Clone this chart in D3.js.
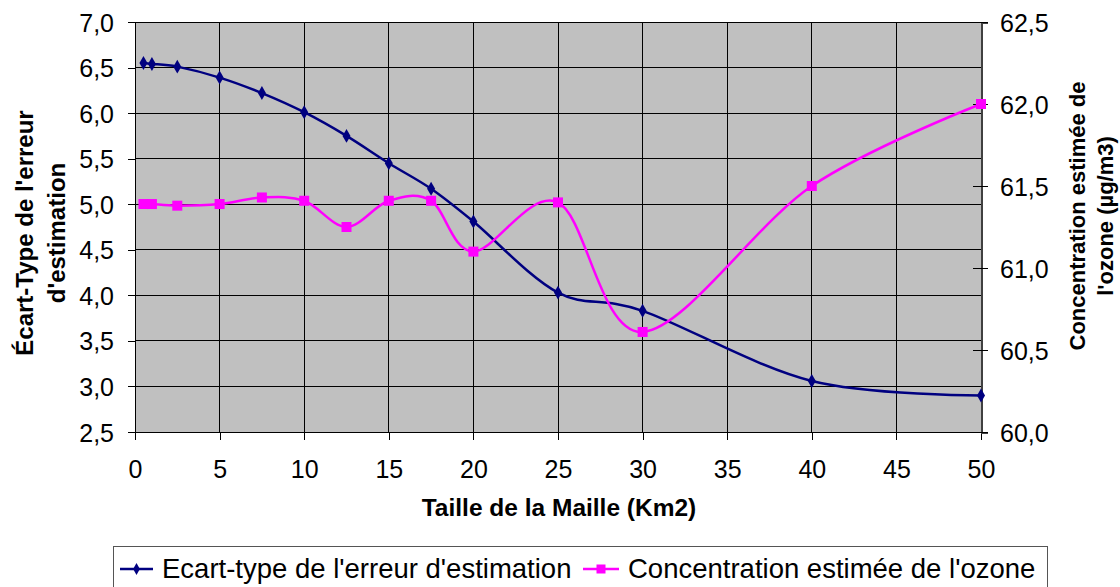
<!DOCTYPE html>
<html>
<head>
<meta charset="utf-8">
<script src="https://cdn.jsdelivr.net/npm/d3@7"></script>
<style>
  html, body { margin: 0; padding: 0; background: #fff; }
  svg { display: block; font-family: "Liberation Sans", Arial, sans-serif; }
</style>
</head>
<body>
<svg id="chart" width="1120" height="587"></svg>
<script>
// Mesh size (km²)
const maille = [0.5, 1, 2.5, 5, 7.5, 10, 12.5, 15, 17.5, 20, 25, 30, 40, 50];
// Standard deviation of the estimation error (left axis)
const ecartType = [6.55, 6.54, 6.51, 6.39, 6.22, 6.01, 5.75, 5.45, 5.17, 4.81, 4.03, 3.83, 3.06, 2.90];
// Estimated ozone concentration, µg/m3 (right axis)
const concentration = [61.39, 61.39, 61.38, 61.39, 61.43, 61.41, 61.25, 61.41, 61.41, 61.10, 61.40, 60.61, 61.50, 62.00];

const xTicks = [0, 5, 10, 15, 20, 25, 30, 35, 40, 45, 50];
const leftTicks = [2.5, 3.0, 3.5, 4.0, 4.5, 5.0, 5.5, 6.0, 6.5, 7.0];
const rightTicks = [60.0, 60.5, 61.0, 61.5, 62.0, 62.5];

const seriesNames = ["Ecart-type de l'erreur d'estimation", "Concentration estimée de l'ozone"];
const xTitle = "Taille de la Maille (Km2)";
const leftTitle = ["Écart-Type de l'erreur", "d'estimation"];
const rightTitle = ["Concentration estimée de", "l'ozone (µg/m3)"];

const svg = d3.select("#chart");
const plot = { left: 135, right: 981, top: 22, bottom: 432 };

const fr = d3.formatLocale({ decimal: ",", thousands: " ", grouping: [3], currency: ["", "€"] });
const f1 = fr.format(".1f");

const x = d3.scaleLinear().domain([0, 50]).range([plot.left, plot.right]);
const yL = d3.scaleLinear().domain([2.5, 7]).range([plot.bottom, plot.top]);
const yR = d3.scaleLinear().domain([60, 62.5]).range([plot.bottom, plot.top]);

// plot background
svg.append("rect")
  .attr("x", plot.left).attr("y", plot.top)
  .attr("width", plot.right - plot.left).attr("height", plot.bottom - plot.top)
  .attr("fill", "#c0c0c0");

// gridlines
const grid = svg.append("g").attr("stroke", "#000").attr("stroke-width", 1).attr("shape-rendering", "crispEdges");
grid.selectAll("line.h").data(leftTicks).join("line").attr("class", "h")
  .attr("x1", plot.left).attr("x2", plot.right)
  .attr("y1", d => yL(d)).attr("y2", d => yL(d));
grid.selectAll("line.v").data(xTicks).join("line").attr("class", "v")
  .attr("y1", plot.top).attr("y2", plot.bottom)
  .attr("x1", d => x(d)).attr("x2", d => x(d));

// axes
const tickFont = 25;
const gx = svg.append("g").attr("transform", `translate(0,${plot.bottom})`)
  .call(d3.axisBottom(x).tickValues(xTicks).tickSize(8).tickPadding(20).tickFormat(d3.format("d")));
const gl = svg.append("g").attr("transform", `translate(${plot.left},0)`)
  .call(d3.axisLeft(yL).tickValues(leftTicks).tickSize(7).tickPadding(14).tickFormat(f1));
const gr = svg.append("g").attr("transform", `translate(${plot.right},0)`)
  .call(d3.axisRight(yR).tickValues(rightTicks).tickSize(7).tickPadding(12).tickFormat(f1));
// right ticks cross the axis line
gr.selectAll(".tick line").attr("x1", -8);

[gx, gl, gr].forEach(g => {
  g.selectAll("text").attr("font-size", tickFont).attr("fill", "#000")
    .attr("font-family", "'Liberation Sans', Arial, sans-serif");
  g.selectAll("line").attr("stroke", "#000").attr("shape-rendering", "crispEdges");
  g.select(".domain").attr("stroke", "#000").attr("shape-rendering", "crispEdges");
});
gx.selectAll(".tick text").attr("dy", "0.71em");
gl.selectAll(".tick text").attr("dy", "0.36em");
gr.selectAll(".tick text").attr("dy", "0.36em");
gr.select(".domain").attr("stroke", "#404040").attr("stroke-width", 2);

// axis titles
svg.append("text")
  .attr("x", (plot.left + plot.right) / 2 + 1).attr("y", 516)
  .attr("text-anchor", "middle").attr("font-weight", "bold").attr("font-size", 24.5)
  .text(xTitle);

const lt = svg.append("text")
  .attr("transform", "translate(33,233) rotate(-90)")
  .attr("text-anchor", "middle").attr("font-weight", "bold").attr("font-size", 24);
lt.selectAll("tspan").data(leftTitle).join("tspan")
  .attr("x", 0).attr("dy", (d, i) => i === 0 ? 0 : 32).text(d => d);

const rt = svg.append("text")
  .attr("transform", "translate(1085,216) rotate(-90)")
  .attr("text-anchor", "middle").attr("font-weight", "bold").attr("font-size", 22);
rt.selectAll("tspan").data(rightTitle).join("tspan")
  .attr("x", 0).attr("dy", (d, i) => i === 0 ? 0 : 28).text(d => d);

// series
const curve = d3.curveCardinal.tension(0);
const blue = "#000080", pink = "#ff00ff";

const lineL = d3.line().x((d, i) => x(maille[i])).y(d => yL(d)).curve(curve);
const lineR = d3.line().x((d, i) => x(maille[i])).y(d => yR(d)).curve(curve);

svg.append("path").datum(ecartType).attr("d", lineL)
  .attr("fill", "none").attr("stroke", blue).attr("stroke-width", 2.5);
svg.append("path").datum(concentration).attr("d", lineR)
  .attr("fill", "none").attr("stroke", pink).attr("stroke-width", 2.5);

const diamond = d3.symbol().type(d3.symbolDiamond).size(56);
svg.append("g").selectAll("path").data(ecartType).join("path")
  .attr("transform", (d, i) => `translate(${x(maille[i])},${yL(d)})`)
  .attr("d", diamond).attr("fill", blue);

const sq = 10;
svg.append("g").selectAll("rect").data(concentration).join("rect")
  .attr("x", (d, i) => x(maille[i]) - sq / 2).attr("y", d => yR(d) - sq / 2)
  .attr("width", sq).attr("height", sq).attr("fill", pink);

// legend
const legend = svg.append("g");
legend.append("rect")
  .attr("x", 113.5).attr("y", 546.5).attr("width", 934).attr("height", 60)
  .attr("fill", "#fff").attr("stroke", "#555").attr("stroke-width", 1);

const legItems = [
  { name: seriesNames[0], color: blue, x0: 120, x1: 153, tx: 162, marker: "diamond" },
  { name: seriesNames[1], color: pink, x0: 583, x1: 619, tx: 628, marker: "square" }
];
const legY = 569;
legItems.forEach(it => {
  legend.append("line").attr("x1", it.x0).attr("x2", it.x1).attr("y1", legY).attr("y2", legY)
    .attr("stroke", it.color).attr("stroke-width", 2.5);
  const cx = (it.x0 + it.x1) / 2;
  if (it.marker === "diamond") {
    legend.append("path").attr("transform", `translate(${cx},${legY})`)
      .attr("d", d3.symbol().type(d3.symbolDiamond).size(40)).attr("fill", it.color);
  } else {
    legend.append("rect").attr("x", cx - 4.5).attr("y", legY - 4.5).attr("width", 9).attr("height", 9)
      .attr("fill", it.color);
  }
  legend.append("text").attr("x", it.tx).attr("y", 578).attr("font-size", 27.5).attr("fill", "#000")
    .text(it.name);
});
</script>
</body>
</html>
